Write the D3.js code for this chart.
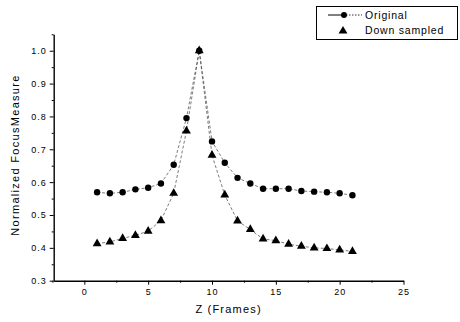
<!DOCTYPE html>
<html>
<head>
<meta charset="utf-8">
<script src="https://cdn.jsdelivr.net/npm/d3@7"></script>
<style>
  body { margin: 0; background: #fff; }
  svg { font-family: "Liberation Sans", Arial, sans-serif; }
</style>
</head>
<body>
<div id="chart"></div>
<script>
// frames
const frames = [1, 2, 3, 4, 5, 6, 7, 8, 9, 10, 11, 12, 13, 14, 15, 16, 17, 18, 19, 20, 21];
// normalized focus measure, original sequence
const original = [0.569, 0.566, 0.569, 0.578, 0.583, 0.596, 0.653, 0.795, 1.0, 0.724, 0.659,
  0.613, 0.596, 0.580, 0.580, 0.580, 0.573, 0.571, 0.569, 0.566, 0.560];
// normalized focus measure, down sampled sequence
const downSampled = [0.413, 0.418, 0.429, 0.438, 0.451, 0.483, 0.566, 0.756, 1.0, 0.682, 0.561,
  0.482, 0.456, 0.427, 0.422, 0.411, 0.405, 0.400, 0.398, 0.394, 0.389];
const xTicks = [0, 5, 10, 15, 20, 25];
const yTicks = [0.3, 0.4, 0.5, 0.6, 0.7, 0.8, 0.9, 1.0];
const seriesNames = ["Original", "Down sampled"];

let width = 460, height = 322;
let margin = {top: 34.3, right: 56.5, bottom: 41.3, left: 53.7};

let svg = d3.select("#chart").append("svg")
  .attr("width", width)
  .attr("height", height);

let x = d3.scaleLinear().domain([-2.4, 25]).range([margin.left, width - margin.right]);
let y = d3.scaleLinear().domain([0.3, 1.05]).range([height - margin.bottom, margin.top]);

// x axis
svg.append("g")
  .attr("transform", "translate(0," + (height - margin.bottom) + ")")
  .call(d3.axisBottom(x).tickValues(xTicks).tickSize(4).tickSizeOuter(0).tickPadding(4).tickFormat(d3.format("d")));
svg.append("g")
  .attr("transform", "translate(0," + (height - margin.bottom) + ")")
  .call(d3.axisBottom(x).tickValues([-2.5, 2.5, 7.5, 12.5, 17.5, 22.5]).tickSize(2).tickSizeOuter(0).tickFormat(""))
  .select(".domain").remove();

// y axis
svg.append("g")
  .attr("transform", "translate(" + margin.left + ",0)")
  .call(d3.axisLeft(y).tickValues(yTicks).tickSize(4).tickSizeOuter(0).tickPadding(3).tickFormat(d3.format(".1f")));
svg.append("g")
  .attr("transform", "translate(" + margin.left + ",0)")
  .call(d3.axisLeft(y).tickValues([0.35, 0.45, 0.55, 0.65, 0.75, 0.85, 0.95, 1.05]).tickSize(2).tickSizeOuter(0).tickFormat(""))
  .select(".domain").remove();

svg.selectAll(".domain").attr("stroke-width", 1.4);
svg.selectAll(".tick line").attr("stroke-width", 1);
svg.selectAll(".tick text").attr("font-size", 9).attr("letter-spacing", 1).attr("fill", "#000");

// axis titles
svg.append("text")
  .attr("x", (x(-2.4) + x(25)) / 2)
  .attr("y", 313)
  .attr("text-anchor", "middle")
  .attr("font-size", 11)
  .attr("letter-spacing", 1.2)
  .text("Z (Frames)");

svg.append("text")
  .attr("transform", "rotate(-90)")
  .attr("x", -155)
  .attr("y", 19)
  .attr("text-anchor", "middle")
  .attr("font-size", 11)
  .attr("letter-spacing", 1.3)
  .text("Normalized FocusMeasure");

let line = d3.line()
  .x(function (d, i) { return x(frames[i]); })
  .y(function (d) { return y(d); });

// connecting lines
[original, downSampled].forEach(function (series) {
  svg.append("path")
    .datum(series)
    .attr("d", line)
    .attr("fill", "none")
    .attr("stroke", "#444")
    .attr("stroke-width", 0.7)
    .attr("stroke-dasharray", "3,2");
});

let triangle = d3.symbol().type(d3.symbolTriangle).size(34);

svg.append("g").selectAll("path")
  .data(downSampled)
  .enter().append("path")
  .attr("d", triangle)
  .attr("transform", function (d, i) { return "translate(" + x(frames[i]) + "," + y(d) + ")"; })
  .attr("fill", "#000");

svg.append("g").selectAll("circle")
  .data(original)
  .enter().append("circle")
  .attr("cx", function (d, i) { return x(frames[i]); })
  .attr("cy", function (d) { return y(d); })
  .attr("r", 3.2)
  .attr("fill", "#000");

// legend
let legend = svg.append("g");
legend.append("rect")
  .attr("x", 316.5)
  .attr("y", 6.5)
  .attr("width", 141)
  .attr("height", 33)
  .attr("fill", "#fff")
  .attr("stroke", "#000")
  .attr("stroke-width", 1);
legend.append("line")
  .attr("x1", 328).attr("x2", 343).attr("y1", 15).attr("y2", 15)
  .attr("stroke", "#000").attr("stroke-width", 1);
legend.append("line")
  .attr("x1", 343).attr("x2", 362).attr("y1", 15).attr("y2", 15)
  .attr("stroke", "#000").attr("stroke-width", 0.8).attr("stroke-dasharray", "1.5,1.5");
legend.append("circle")
  .attr("cx", 344).attr("cy", 15).attr("r", 3)
  .attr("fill", "#000");
legend.append("path")
  .attr("d", triangle)
  .attr("transform", "translate(343,31)")
  .attr("fill", "#000");
legend.selectAll("text.lbl")
  .data(seriesNames)
  .enter().append("text")
  .attr("class", "lbl")
  .attr("x", 365)
  .attr("y", function (d, i) { return 19 + i * 14.5; })
  .attr("font-size", 10.5)
  .attr("letter-spacing", 0.8)
  .text(function (d) { return d; });
</script>
</body>
</html>
